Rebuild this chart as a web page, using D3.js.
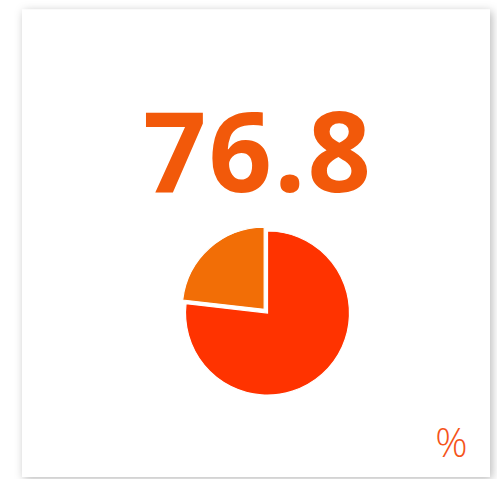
<!DOCTYPE html>
<html>
<head>
<meta charset="utf-8">
<script src="https://cdn.jsdelivr.net/npm/d3@7"></script>
<style>
  html, body { margin: 0; padding: 0; background: #ffffff; }
  svg { display: block; }
</style>
</head>
<body>
<svg id="chart" width="497" height="479"></svg>
<script>
const value = 76.8;
const categories = ["Value", "Remainder"];
const sliceValues = [76.8, 23.2];
const sliceColors = ["#ff3300", "#f26e06"];
const explodedSlice = [false, true];
const valueLabel = "76.8";
const unitLabel = "%";

const svg = d3.select("#chart");

const defs = svg.append("defs");
const f = defs.append("filter").attr("id", "shadow")
  .attr("x", "-10%").attr("y", "-10%").attr("width", "120%").attr("height", "120%");
f.append("feDropShadow").attr("dx", 2).attr("dy", 2).attr("stdDeviation", 5)
  .attr("flood-color", "#000").attr("flood-opacity", 0.28);

const card = { x: 22, y: 9.5, w: 468, h: 467.5 };
svg.append("rect")
  .attr("x", card.x).attr("y", card.y).attr("width", card.w).attr("height", card.h)
  .attr("fill", "#ffffff").attr("filter", "url(#shadow)");

svg.append("text")
  .attr("x", 258).attr("y", 192)
  .attr("text-anchor", "middle")
  .attr("font-family", "'Open Sans', sans-serif")
  .attr("font-weight", 700)
  .attr("font-size", 111)
  .attr("letter-spacing", 2)
  .attr("fill", "#f2590a")
  .text(valueLabel);

const cx = 267.5, cy = 313, r = 82, explode = 5;
const pie = d3.pie().sort(null).value(d => d.v);
const arcs = pie(categories.map((c, i) => ({ c, v: sliceValues[i], i })));
const arc = d3.arc().innerRadius(0).outerRadius(r);

const g = svg.append("g").attr("transform", `translate(${cx},${cy})`);
g.selectAll("path").data(arcs).join("path")
  .attr("d", arc)
  .attr("fill", d => sliceColors[d.data.i])
  .attr("stroke", "#ffffff").attr("stroke-width", 1.2)
  .attr("transform", d => {
    if (!explodedSlice[d.data.i]) return null;
    const a = (d.startAngle + d.endAngle) / 2;
    return `translate(${Math.sin(a) * explode},${-Math.cos(a) * explode})`;
  });

svg.append("text")
  .attr("x", 451.5).attr("y", 456.5)
  .attr("text-anchor", "middle")
  .attr("font-family", "'Open Sans', sans-serif")
  .attr("font-weight", 300)
  .attr("font-size", 40)
  .attr("fill", "#f5541a")
  .text(unitLabel);
</script>
</body>
</html>
